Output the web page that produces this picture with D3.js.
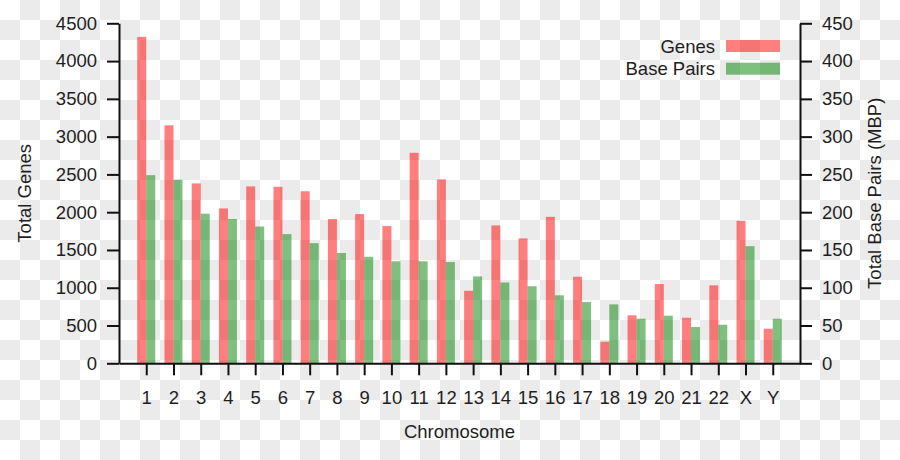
<!DOCTYPE html>
<html>
<head>
<meta charset="utf-8">
<script src="https://cdn.jsdelivr.net/npm/d3@7/dist/d3.min.js"></script>
<style>
  html, body { margin: 0; padding: 0; background: #fff; }
  svg { display: block; }
  text { font-family: "Liberation Sans", Arial, sans-serif; fill: #1e1e1e; }
</style>
</head>
<body>
<svg id="chart" width="900" height="460"></svg>
<script>
// ---- data ----
const chromosomes = ["1","2","3","4","5","6","7","8","9","10","11","12","13","14","15","16","17","18","19","20","21","22","X","Y"];
const genes = [4320, 3150, 2381, 2050, 2341, 2336, 2277, 1909, 1975, 1816, 2786, 2434, 960, 1825, 1653, 1939, 1146, 286, 635, 1049, 603, 1032, 1886, 458];
const basePairs = [249, 243, 198, 191, 181, 171, 159, 146, 141, 135, 135, 134, 115, 107, 102, 90, 81, 78, 59, 63, 48, 51, 155, 59];
const geneTicks = [0, 500, 1000, 1500, 2000, 2500, 3000, 3500, 4000, 4500];
const bpTicks = [0, 50, 100, 150, 200, 250, 300, 350, 400, 450];
const seriesNames = ["Genes", "Base Pairs"];

const W = 900, H = 460;
const mLeft = 119, mRight = 800, mTop = 23.3, mBottom = 363.3;
const barW = 9;
const fs = 18.5;
const redFill = "rgba(255,0,0,0.5)";
const greenFill = "rgba(0,128,0,0.5)";

const svg = d3.select("#chart");

// checkerboard background
const defs = svg.append("defs");
const pat = defs.append("pattern").attr("id", "checker")
  .attr("width", 40).attr("height", 40).attr("patternUnits", "userSpaceOnUse");
pat.append("rect").attr("width", 40).attr("height", 40).attr("fill", "#ffffff");
pat.append("rect").attr("x", 20).attr("y", 0).attr("width", 20).attr("height", 20).attr("fill", "#ebebeb");
pat.append("rect").attr("x", 0).attr("y", 20).attr("width", 20).attr("height", 20).attr("fill", "#ebebeb");
svg.append("rect").attr("width", W).attr("height", H).attr("fill", "url(#checker)");

// scales
const x = d3.scalePoint().domain(chromosomes).range([mLeft, mRight]).padding(1);
const yG = d3.scaleLinear().domain([0, 4500]).range([mBottom, mTop]);
const yB = d3.scaleLinear().domain([0, 450]).range([mBottom, mTop]);

// bars
svg.append("g").selectAll("rect").data(chromosomes).join("rect")
  .attr("x", d => x(d) - barW)
  .attr("width", barW)
  .attr("y", (d, i) => yG(genes[i]))
  .attr("height", (d, i) => yG(0) - yG(genes[i]))
  .attr("fill", redFill);
svg.append("g").selectAll("rect").data(chromosomes).join("rect")
  .attr("x", d => x(d))
  .attr("width", barW)
  .attr("y", (d, i) => yB(basePairs[i]))
  .attr("height", (d, i) => yB(0) - yB(basePairs[i]))
  .attr("fill", greenFill);

// axes
function styleAxis(g) {
  g.selectAll(".domain").attr("stroke", "#111").attr("stroke-width", 2);
  g.selectAll(".tick line").attr("stroke", "#111").attr("stroke-width", 2);
  g.selectAll(".tick text").attr("font-size", fs).attr("fill", "#1e1e1e")
    .attr("font-family", "'Liberation Sans', Arial, sans-serif");
}
const axL = svg.append("g").attr("transform", `translate(${mLeft},0)`)
  .call(d3.axisLeft(yG).tickValues(geneTicks).tickSize(12).tickSizeOuter(0).tickPadding(10).tickFormat(d3.format("d")));
styleAxis(axL);
const axR = svg.append("g").attr("transform", `translate(${mRight},0)`)
  .call(d3.axisRight(yB).tickValues(bpTicks).tickSize(12).tickSizeOuter(0).tickPadding(10).tickFormat(d3.format("d")));
styleAxis(axR);
const axB = svg.append("g").attr("transform", `translate(0,${mBottom})`)
  .call(d3.axisBottom(x).tickSize(12).tickSizeOuter(0).tickPadding(16));
styleAxis(axB);

// axis titles
svg.append("text").attr("x", (mLeft + mRight) / 2).attr("y", 438)
  .attr("text-anchor", "middle").attr("font-size", fs).text("Chromosome");
svg.append("text").attr("transform", `translate(31,${(mTop + mBottom) / 2}) rotate(-90)`)
  .attr("text-anchor", "middle").attr("font-size", fs).text("Total Genes");
svg.append("text").attr("transform", `translate(881,${(mTop + mBottom) / 2}) rotate(-90)`)
  .attr("text-anchor", "middle").attr("font-size", fs).text("Total Base Pairs (MBP)");

// legend
const legendFills = [redFill, greenFill];
const lg = svg.append("g");
seriesNames.forEach((name, i) => {
  const yy = 40 + i * 22.7;
  lg.append("rect").attr("x", 726).attr("y", yy).attr("width", 54).attr("height", 12).attr("fill", legendFills[i]);
  lg.append("text").attr("x", 715).attr("y", yy + 12.7).attr("text-anchor", "end")
    .attr("font-size", fs).text(name);
});
</script>
</body>
</html>
